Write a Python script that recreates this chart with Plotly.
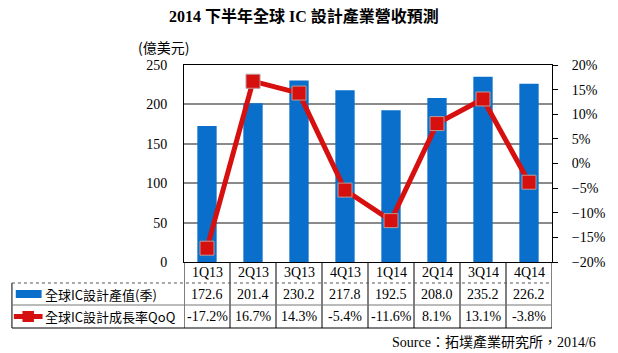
import plotly.graph_objects as go

categories = ["1Q13", "2Q13", "3Q13", "4Q13", "1Q14", "2Q14", "3Q14", "4Q14"]
revenue = [172.6, 201.4, 230.2, 217.8, 192.5, 208.0, 235.2, 226.2]
growth = [-17.2, 16.7, 14.3, -5.4, -11.6, 8.1, 13.1, -3.8]
revenue_labels = ["172.6", "201.4", "230.2", "217.8", "192.5", "208.0", "235.2", "226.2"]
growth_labels = ["-17.2%", "16.7%", "14.3%", "-5.4%", "-11.6%", "8.1%", "13.1%", "-3.8%"]
series_names = ["全球IC設計產值(季)", "全球IC設計成長率QoQ"]
title_text = "<b>2014 下半年全球 IC 設計產業營收預測</b>"
unit_text = "(億美元)"
source_text = "Source：拓墣產業研究所，2014/6"

W, H = 618, 353
L, R, T, B = 184, 569, 65, 262
PW, PH = R - L, B - T

def px(x):
    return (x - L) / PW

def py(y):
    return (B - y) / PH

BLUE = "#0A6FCA"
RED = "#D60F0F"
FONT = "Liberation Serif, Noto Sans CJK TC"
CJK = "Noto Sans CJK TC"

fig = go.Figure()
fig.add_trace(go.Bar(x=list(range(len(categories))), y=revenue, marker=dict(color=BLUE, line=dict(width=0)),
                     width=0.42, name=series_names[0], showlegend=False))
fig.add_trace(go.Scatter(x=list(range(len(categories))), y=growth, yaxis="y2", mode="lines+markers",
                         line=dict(color=RED, width=5),
                         marker=dict(symbol="square", size=14, color=RED, line=dict(color="#b89a9a", width=1)),
                         name=series_names[1], showlegend=False))

fig.update_layout(
    width=W, height=H,
    margin=dict(l=L, r=W - R, t=T, b=H - B),
    plot_bgcolor="white", paper_bgcolor="white",
    font=dict(family=FONT, size=13, color="black"),
    xaxis=dict(range=[-0.5, len(categories) - 0.5], showticklabels=False, showgrid=False,
               showline=True, linecolor="black", linewidth=1, mirror=True, zeroline=False, ticks=""),
    yaxis=dict(range=[0, 250], dtick=50, showgrid=True, gridcolor="#8a8a8a", gridwidth=2,
               showline=True, linecolor="black", linewidth=1, zeroline=False, ticks="",
               ticklabelstandoff=13, tickfont=dict(size=14, family=FONT)),
    yaxis2=dict(range=[-20, 20], dtick=5, overlaying="y", side="right", showgrid=False,
                showline=True, linecolor="black", linewidth=1, zeroline=False,
                ticks="outside", ticklen=5, tickcolor="black", ticksuffix="%",
                ticklabelstandoff=11, tickfont=dict(size=14, family=FONT)),
)

annotations = []
shapes = []

def note(text, x, y, xref="paper", xanchor="center", size=14, family=FONT):
    annotations.append(dict(text=text, x=x, y=y, xref=xref, yref="paper", xanchor=xanchor,
                            yanchor="middle", showarrow=False, font=dict(size=size, family=family)))

note(title_text, px(310), py(16), size=16)
note(unit_text, px(163), py(47), size=14, family=CJK)

# Table
left_x = 4
for i, cat in enumerate(categories):
    note(cat, i, py(272.5), xref="x")
    note(revenue_labels[i], i, py(294), xref="x")
    note(growth_labels[i], i, py(316.5), xref="x")
for k in range(len(categories) + 1):
    shapes.append(dict(type="line", xref="x", yref="paper", x0=k - 0.5, x1=k - 0.5,
                       y0=py(262), y1=py(328), line=dict(color="black", width=1)))
shapes.append(dict(type="line", xref="paper", yref="paper", x0=px(left_x), x1=px(left_x),
                   y0=py(283), y1=py(328), line=dict(color="black", width=1)))
shapes.append(dict(type="line", xref="paper", yref="paper", x0=px(left_x), x1=1,
                   y0=py(283), y1=py(283), line=dict(color="#555555", width=1, dash="dot")))
shapes.append(dict(type="line", xref="paper", yref="paper", x0=px(left_x), x1=1,
                   y0=py(305), y1=py(305), line=dict(color="#777777", width=1)))
shapes.append(dict(type="line", xref="paper", yref="paper", x0=px(left_x), x1=1,
                   y0=py(328), y1=py(328), line=dict(color="black", width=1)))
# legend keys
shapes.append(dict(type="rect", xref="paper", yref="paper", x0=px(8), x1=px(35),
                   y0=py(298), y1=py(290), fillcolor=BLUE, line=dict(width=0)))
shapes.append(dict(type="line", xref="paper", yref="paper", x0=px(6), x1=px(36),
                   y0=py(316.5), y1=py(316.5), line=dict(color=RED, width=5)))
shapes.append(dict(type="rect", xref="paper", yref="paper", x0=px(15), x1=px(27),
                   y0=py(322), y1=py(311), fillcolor=RED, line=dict(width=0)))
note(series_names[0], px(37), py(294), xanchor="left", size=13, family=CJK)
note(series_names[1], px(37), py(316.5), xanchor="left", size=13, family=CJK)
note(source_text, px(400), py(342), xanchor="left", size=14)

fig.update_layout(annotations=annotations, shapes=shapes)
fig.write_html("out.html")
